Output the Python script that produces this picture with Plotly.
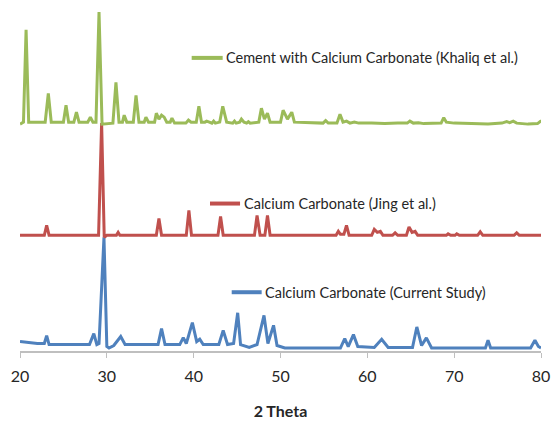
import plotly.graph_objects as go

# ---- data (2 theta, stacked intensity in a.u.) ----
green_x = [20.0, 20.4, 20.7, 21.0, 22.9, 23.26, 23.6, 25.0, 25.3, 25.6, 26.2, 26.5, 26.8,
           27.8, 28.1, 28.4, 28.75, 29.1, 29.45, 30.7, 31.05, 31.4, 31.8, 32.0, 32.3,
           33.05, 33.36, 33.7, 34.3, 34.5, 34.8, 35.5, 35.7, 36.0, 36.3, 36.6, 36.9,
           37.3, 37.5, 37.8, 39.1, 39.4, 39.7, 40.3, 40.6, 40.9, 41.3, 41.5, 41.8,
           42.1, 42.3, 42.5, 43.0, 43.35, 43.8, 44.5, 44.7, 44.9, 45.3, 45.5, 45.8,
           46.1, 46.3, 46.5, 47.5, 47.8, 48.15, 48.5, 48.8, 50.0, 50.3, 50.8, 51.3, 51.6,
           54.9, 55.2, 55.5, 56.5, 56.85, 57.2, 57.6, 58.0, 58.5, 59.0, 60.5, 62.0, 63.5,
           64.6, 64.9, 65.3, 65.9, 66.5, 68.5, 68.8, 69.1, 70.0, 72.0, 73.9, 75.5, 76.05,
           76.4, 76.8, 77.2, 78.5, 79.6, 79.9, 80.0]
green_y = [227, 229, 322, 229, 229, 258, 229, 229, 246, 229, 229, 239, 229,
           229, 234, 229, 229, 340, 227, 228, 269, 229, 229, 236, 229,
           229, 256, 229, 229, 234, 229, 229, 238, 232, 236, 234, 229,
           229, 233, 228, 228, 231, 229, 229, 245, 229, 229, 230, 229,
           228, 230, 228, 229, 245, 229, 228, 230, 228, 229, 232, 229,
           228, 229.5, 228, 229, 243, 232, 238, 229, 229, 241, 232, 239, 229,
           228, 230.5, 228, 228, 237, 229, 230, 228, 229, 228, 228, 227.5, 228,
           228, 230, 228, 228.3, 227.5, 228, 233.5, 229, 228, 227.5, 227, 228, 229.5,
           228.5, 230, 228, 227, 227.5, 229.5, 228.5]

red_x = [20.0, 22.8, 23.07, 23.35, 29.05, 29.4, 29.7, 30.0, 31.1, 31.3, 31.5,
         35.7, 36.0, 36.3, 39.15, 39.45, 39.75, 42.8, 43.1, 43.4,
         47.0, 47.3, 47.65, 48.2, 48.5, 48.8, 56.4, 56.66, 56.9, 57.3, 57.6, 57.9,
         60.5, 60.8, 61.15, 61.5, 61.8, 62.9, 63.2, 63.5, 64.5, 64.8, 65.15, 65.5, 65.8,
         69.1, 69.3, 69.6, 70.1, 70.3, 70.6, 72.7, 73.0, 73.3, 76.9, 77.2, 77.5, 80.0]
red_y = [115, 115, 125, 115, 115, 228, 113, 115, 115, 118, 115,
         115, 132, 115, 115, 140, 115, 115, 134, 115,
         115, 135, 115, 115, 135, 115, 115, 119, 116, 116, 125, 115,
         115, 121, 118, 119, 115, 115, 117.5, 115, 115, 123.5, 118, 119, 115,
         115, 116.5, 115, 115, 116.5, 115, 115, 118.5, 115, 115, 117.5, 115, 115]

blue_x = [20.0, 22.0, 22.8, 23.07, 23.35, 28.0, 28.5, 28.85, 29.1, 29.67, 30.0, 30.25, 30.8,
          31.6, 32.1, 34.0, 35.9, 36.3, 36.7, 38.4, 38.8, 39.15, 39.85, 40.35, 40.7, 41.1,
          42.9, 43.4, 43.9, 44.6, 45.07, 45.4, 46.4, 47.3, 48.1, 48.55, 49.2, 49.6,
          50.5, 56.9, 57.4, 57.8, 58.4, 58.9, 60.8, 61.65, 62.4, 65.2, 65.7, 66.25, 66.8, 67.4,
          73.6, 73.9, 74.2, 78.8, 79.3, 79.7, 80.0]
blue_y = [8, 6, 6, 14, 5, 5, 16, 5, 6, 113, 3, 1.5, 4,
          13, 5, 5, 5, 21, 5, 5, 12, 6, 27, 8, 10.3, 5,
          5, 19.3, 5, 6, 37, 5, 2, 5, 34.3, 6, 24.3, 4,
          1.5, 1.5, 11, 3, 15, 3, 2, 10.3, 2, 2, 22.7, 4, 11.7, 1.5,
          1.5, 9.3, 1.5, 1.5, 9.3, 3, 1.5]

x_ticks = [20, 30, 40, 50, 60, 70, 80]

names = ["Calcium Carbonate (Current Study)",
         "Calcium Carbonate (Jing et al.)",
         "Cement with Calcium Carbonate (Khaliq et al.)"]
colors = ["#4F81BD", "#C0504D", "#9BBB59"]

FONT = "Lato, Liberation Sans, Arial, sans-serif"

fig = go.Figure()
for xs, ys, nm, c in [(blue_x, blue_y, names[0], colors[0]),
                      (red_x, red_y, names[1], colors[1]),
                      (green_x, green_y, names[2], colors[2])]:
    fig.add_trace(go.Scatter(x=xs, y=ys, mode="lines", name=nm,
                             line=dict(color=c, width=3), showlegend=False))

# in-plot legend entries (line sample + label)
legend_pos = [(44.38, 47.83, 57.7), (41.88, 45.34, 147), (39.77, 43.34, 293.7)]
for (x0, x1, yy), nm, c in zip(legend_pos, names, colors):
    fig.add_shape(type="line", x0=x0, x1=x1, y0=yy, y1=yy, xref="x", yref="y",
                  line=dict(color=c, width=4))
    fig.add_annotation(x=x1 + 0.3, y=yy, xref="x", yref="y", text=nm,
                       showarrow=False, xanchor="left", yanchor="middle",
                       borderpad=0,
                       font=dict(family=FONT, size=14.5, color="#262626"))

fig.update_layout(
    width=552, height=430,
    margin=dict(l=20, r=11, t=0, b=79),
    paper_bgcolor="white", plot_bgcolor="white",
    font=dict(family=FONT, size=15, color="#262626"),
    showlegend=False,
)
fig.update_xaxes(range=[20, 80], tickvals=x_ticks, ticktext=[str(v) for v in x_ticks],
                 automargin=False,
                 showgrid=False, zeroline=False, showline=True, linecolor="#BFBFBF",
                 linewidth=1.5, ticks="outside", ticklen=5, tickcolor="#BFBFBF",
                 ticklabelstandoff=5,
                 tickfont=dict(family=FONT, size=16, color="#262626"),
                 title=dict(text="<b>2 Theta</b>", standoff=22,
                            font=dict(family=FONT, size=16, color="#262626")))
fig.update_yaxes(range=[-1.5, 352], visible=False, showgrid=False, zeroline=False,
                 automargin=False)

fig.write_html("out.html", config={"displayModeBar": False},
               post_script="document.body.style.margin='0';document.body.style.padding='0';")
